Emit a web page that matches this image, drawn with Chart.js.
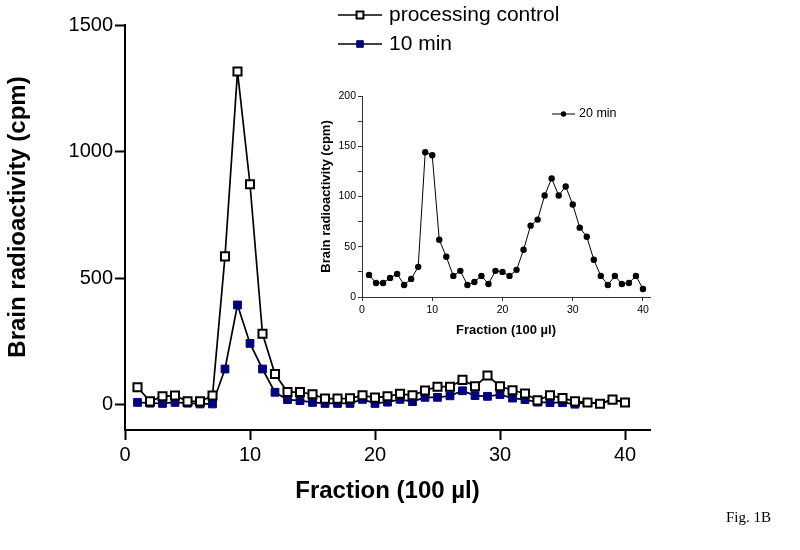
<!DOCTYPE html>
<html>
<head>
<meta charset="utf-8">
<script src="https://cdn.jsdelivr.net/npm/chart.js@4/dist/chart.umd.min.js"></script>
<style>
  html, body { margin: 0; padding: 0; background: #fff; }
  #wrap { position: relative; width: 800px; height: 550px; }
  #main { position: absolute; left: 0; top: 0; }
  #inset { position: absolute; left: 300px; top: 80px; }
  #fig { position: absolute; left: 726px; top: 509px; font-family: "Liberation Serif", "Times New Roman", serif; font-size: 15px; color: #000; }
</style>
</head>
<body>
<div id="wrap">
  <canvas id="main" width="800" height="550"></canvas>
  <canvas id="inset" width="370" height="265"></canvas>
  <div id="fig">Fig. 1B</div>
</div>
<script>
// fractions (100 ul each)
const fractions = [1, 2, 3, 4, 5, 6, 7, 8, 9, 10, 11, 12, 13, 14, 15, 16, 17, 18, 19, 20,
  21, 22, 23, 24, 25, 26, 27, 28, 29, 30, 31, 32, 33, 34, 35, 36, 37, 38, 39, 40];

// main panel, cpm
const processingControl = [69, 13, 33, 36, 13, 13, 36, 586, 1316, 871, 280, 121, 50, 50, 41, 24, 24, 25, 37, 28,
  33, 43, 37, 56, 71, 71, 98, 73, 115, 73, 57, 44, 17, 37, 26, 13, 9, 4, 20, 9];
const tenMin = [9, 6, 5, 9, 6, 3, 3, 141, 394, 242, 141, 49, 20, 16, 9, 5, 5, 5, 21, 5,
  10, 21, 12, 29, 29, 35, 55, 36, 33, 40, 26, 20, 10, 8, 8, 2, 9, 4, 20, 9];

// inset panel, cpm
const twentyMin = [22, 14, 14, 19, 23, 12, 18, 30, 144, 141, 57, 40, 21, 26, 12, 15, 21, 13, 26, 25,
  21, 27, 47, 71, 77, 101, 118, 101, 110, 92, 69, 60, 37, 21, 12, 21, 13, 14, 21, 8];

const mainXTicks = [0, 10, 20, 30, 40];
const mainYTicks = [0, 500, 1000, 1500];
const insetXTicks = [0, 10, 20, 30, 40];

Chart.defaults.font.family = '"Liberation Sans", Arial, sans-serif';
Chart.defaults.color = '#000';

const pts = (ys) => fractions.map((f, i) => ({ x: f, y: ys[i] }));

// legend drawn by hand so it can sit inside the plot like the original
function legendPlugin(id, x0, x1, textX, rows, fontSize) {
  return {
    id: id,
    afterDraw(chart) {
      const ctx = chart.ctx;
      chart.data.datasets.forEach((ds, i) => {
        const y = rows[i];
        ctx.save();
        ctx.strokeStyle = ds.borderColor;
        ctx.lineWidth = ds.borderWidth;
        ctx.beginPath();
        ctx.moveTo(x0, y);
        ctx.lineTo(x1, y);
        ctx.stroke();
        ctx.fillStyle = ds.pointBackgroundColor;
        ctx.strokeStyle = ds.pointBorderColor;
        ctx.lineWidth = ds.pointBorderWidth;
        Chart.helpers.drawPoint(ctx, {
          pointStyle: ds.pointStyle,
          radius: ds.pointRadius * 0.85,
          borderWidth: ds.pointBorderWidth
        }, (x0 + x1) / 2, y);
        ctx.fillStyle = '#000';
        ctx.font = fontSize + 'px "Liberation Sans", Arial, sans-serif';
        ctx.textBaseline = 'middle';
        ctx.fillText(ds.label, textX, y);
        ctx.restore();
      });
    }
  };
}

// y title of the main panel sits a bit above the axis centre in the original
const mainYTitle = {
  id: 'mainYTitle',
  afterDraw(chart) {
    const ctx = chart.ctx;
    ctx.save();
    ctx.translate(18, 217);
    ctx.rotate(-Math.PI / 2);
    ctx.fillStyle = '#000';
    ctx.font = 'bold 24px "Liberation Sans", Arial, sans-serif';
    ctx.textAlign = 'center';
    ctx.textBaseline = 'middle';
    ctx.fillText('Brain radioactivity (cpm)', 0, 0);
    ctx.restore();
  }
};

// ====== MAIN CHART ======
new Chart(document.getElementById('main'), {
  type: 'line',
  data: {
    datasets: [{
      label: 'processing control',
      data: pts(processingControl),
      borderColor: '#000',
      borderWidth: 1.7,
      pointStyle: 'rect',
      pointRadius: 5.7,
      pointBorderWidth: 2,
      pointBackgroundColor: '#fff',
      pointBorderColor: '#000'
    }, {
      label: '10 min',
      data: pts(tenMin),
      borderColor: '#000',
      borderWidth: 1.7,
      pointStyle: 'rect',
      pointRadius: 5.5,
      pointBorderWidth: 1,
      pointBackgroundColor: '#00007f',
      pointBorderColor: '#00007f'
    }]
  },
  options: {
    responsive: false,
    animation: false,
    layout: { padding: { top: 25, right: 150, left: 0, bottom: 0 } },
    plugins: { legend: { display: false }, tooltip: { enabled: false } },
    scales: {
      x: {
        type: 'linear',
        min: 0,
        max: 42,
        afterBuildTicks: s => { s.ticks = mainXTicks.map(v => ({ value: v })); },
        afterFit: s => { s.height = 120; },
        grid: { drawOnChartArea: false, tickLength: 10, tickColor: '#000', tickWidth: 2 },
        border: { display: true, color: '#000', width: 2 },
        ticks: { font: { size: 20 }, padding: 3, maxRotation: 0, color: '#000', callback: v => String(v) },
        title: {
          display: true,
          text: 'Fraction (100 µl)',
          font: { size: 24, weight: 'bold' },
          padding: { top: 0, bottom: 44 },
          color: '#000'
        }
      },
      y: {
        type: 'linear',
        min: -100,
        max: 1500,
        afterBuildTicks: s => { s.ticks = mainYTicks.map(v => ({ value: v })); },
        afterFit: s => { s.width = 125; },
        grid: { drawOnChartArea: false, tickLength: 10, tickColor: '#000', tickWidth: 2 },
        border: { display: true, color: '#000', width: 2 },
        ticks: { font: { size: 20 }, padding: 2, color: '#000', callback: v => String(v) },
        title: { display: false }
      }
    }
  },
  plugins: [legendPlugin('legendMain', 338, 382, 389, [15, 44], 21), mainYTitle]
});

// ====== INSET (20 min) ======
new Chart(document.getElementById('inset'), {
  type: 'line',
  data: {
    datasets: [{
      label: '20 min',
      data: pts(twentyMin),
      borderColor: '#000',
      borderWidth: 1,
      pointStyle: 'circle',
      pointRadius: 3.2,
      pointBorderWidth: 0,
      pointBackgroundColor: '#000',
      pointBorderColor: '#000'
    }]
  },
  options: {
    responsive: false,
    animation: false,
    layout: { padding: { top: 16, right: 20, left: 0, bottom: 0 } },
    plugins: { legend: { display: false }, tooltip: { enabled: false } },
    scales: {
      x: {
        type: 'linear',
        min: 0,
        max: 41,
        afterBuildTicks: s => { s.ticks = insetXTicks.map(v => ({ value: v })); },
        afterFit: s => { s.height = 48; },
        grid: { drawOnChartArea: false, tickLength: 4, tickColor: '#333', tickWidth: 1 },
        border: { display: true, color: '#333', width: 1 },
        ticks: { font: { size: 10.5 }, padding: 3, maxRotation: 0, color: '#000' },
        title: {
          display: true,
          text: 'Fraction (100 µl)',
          font: { size: 13, weight: 'bold' },
          padding: { top: 0, bottom: 7 },
          color: '#000'
        }
      },
      y: {
        type: 'linear',
        min: 0,
        max: 200,
        ticks: {
          stepSize: 25,
          font: { size: 10.5 },
          padding: 2,
          color: '#000',
          callback: v => (v % 50 === 0 ? String(v) : '')
        },
        afterFit: s => { s.width = 62; },
        grid: { drawOnChartArea: false, tickLength: 4, tickColor: '#333', tickWidth: 1 },
        border: { display: true, color: '#333', width: 1 },
        title: {
          display: true,
          text: 'Brain radioactivity (cpm)',
          font: { size: 13, weight: 'bold' },
          padding: { top: 19, bottom: 0 },
          color: '#000'
        }
      }
    }
  },
  plugins: [legendPlugin('legendInset', 252, 275, 279, [34], 12.5)]
});
</script>
</body>
</html>
